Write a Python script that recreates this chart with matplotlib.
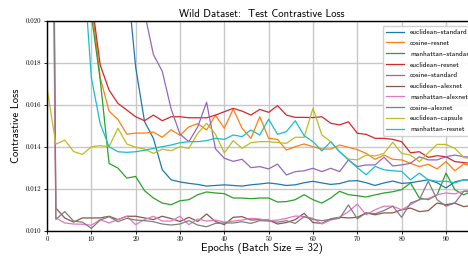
import matplotlib
matplotlib.use('Agg')
import matplotlib.pyplot as plt
from matplotlib.ticker import FormatStrFormatter

# epochs (every 2nd epoch)
epochs = list(range(0, 98, 2))

euclidean_standard = [0.12, 0.08, 0.06, 0.05, 0.042, 0.036, 0.031, 0.027, 0.0245, 0.0222,
                      0.0178, 0.0152, 0.0144, 0.0129, 0.01242, 0.01232, 0.01225, 0.0122, 0.01212, 0.01215,
                      0.01218, 0.01215, 0.01212, 0.01218, 0.01222, 0.01227, 0.01222, 0.01215, 0.01218, 0.01228,
                      0.01235, 0.01227, 0.0122, 0.01224, 0.01236, 0.01238, 0.01228, 0.01215, 0.01227, 0.01236,
                      0.01225, 0.01228, 0.01235, 0.01242, 0.01228, 0.01203, 0.01232, 0.01242, 0.0124]
cosine_resnet = [0.11, 0.075, 0.055, 0.042, 0.030, 0.0209, 0.0173, 0.0157, 0.0153, 0.0146,
                 0.01465, 0.01465, 0.0147, 0.01445, 0.01481, 0.01454, 0.01495, 0.0151, 0.0148, 0.0155,
                 0.01488, 0.0158, 0.01488, 0.0144, 0.01543, 0.0144, 0.01435, 0.01384, 0.014, 0.01413,
                 0.014, 0.01389, 0.01389, 0.01408, 0.01397, 0.01386, 0.01368, 0.0134, 0.0136, 0.0134,
                 0.01337, 0.01321, 0.01305, 0.01316, 0.01294, 0.01329, 0.01285, 0.01317, 0.0131]
manhattan_standard = [0.10, 0.07, 0.05, 0.038, 0.029, 0.0203, 0.0172, 0.0132, 0.01298, 0.0125,
                      0.01258, 0.0119, 0.01155, 0.01131, 0.01123, 0.01142, 0.01147, 0.01171, 0.01184, 0.01179,
                      0.01176, 0.01155, 0.01155, 0.01152, 0.01155, 0.01155, 0.01136, 0.01138, 0.01147, 0.01171,
                      0.01147, 0.01131, 0.01155, 0.01187, 0.01171, 0.01166, 0.0116, 0.0117, 0.01179, 0.01185,
                      0.01195, 0.01227, 0.01155, 0.01147, 0.0117, 0.01274, 0.01195, 0.0117, 0.0119]
euclidean_resnet = [0.13, 0.09, 0.065, 0.048, 0.033, 0.0211, 0.0179, 0.0167, 0.01607, 0.01575,
                    0.01543, 0.01524, 0.01551, 0.01524, 0.01543, 0.01543, 0.01538, 0.01538, 0.01538, 0.01551,
                    0.01567, 0.01583, 0.0157, 0.01551, 0.01578, 0.01564, 0.01596, 0.01551, 0.0154, 0.0154,
                    0.01539, 0.01543, 0.01512, 0.01504, 0.01519, 0.01464, 0.01459, 0.0144, 0.0144, 0.01435,
                    0.01424, 0.01371, 0.01376, 0.01349, 0.01357, 0.01352, 0.01329, 0.01324, 0.0132]
cosine_standard = [0.14, 0.10, 0.08, 0.065, 0.055, 0.047, 0.041, 0.036, 0.032, 0.029,
                   0.026, 0.0204, 0.0184, 0.0176, 0.0158, 0.0146, 0.01424, 0.01495, 0.01612, 0.0139,
                   0.01345, 0.0133, 0.0134, 0.0130, 0.01305, 0.01294, 0.01317, 0.01265, 0.01281, 0.01285,
                   0.01297, 0.01281, 0.01297, 0.01281, 0.01337, 0.01305, 0.01313, 0.01313, 0.0135, 0.01308,
                   0.01313, 0.01321, 0.01352, 0.01337, 0.01337, 0.01352, 0.0136, 0.01352, 0.0135]
euclidean_alexnet = [0.06, 0.01107, 0.0106, 0.0104, 0.0106, 0.0106, 0.0106, 0.01068, 0.01052, 0.01068,
                     0.01068, 0.0106, 0.01052, 0.01068, 0.01057, 0.01043, 0.01063, 0.01043, 0.01079, 0.01043,
                     0.01028, 0.01063, 0.01066, 0.0105, 0.01052, 0.0105, 0.01031, 0.01038, 0.01052, 0.01082,
                     0.01038, 0.01034, 0.01056, 0.01063, 0.0106, 0.01063, 0.01084, 0.01075, 0.01084, 0.01084,
                     0.01099, 0.01107, 0.0109, 0.01095, 0.01131, 0.01123, 0.01131, 0.01114, 0.0112]
manhattan_alexnet = [0.05, 0.0106, 0.01036, 0.01031, 0.0103, 0.01025, 0.01052, 0.01036, 0.01052, 0.01068,
                     0.01028, 0.01052, 0.01068, 0.01045, 0.01045, 0.01068, 0.01028, 0.01055, 0.01045, 0.0105,
                     0.0104, 0.01045, 0.0105, 0.01058, 0.01055, 0.01047, 0.0105, 0.01058, 0.01069, 0.01066,
                     0.01058, 0.01031, 0.0105, 0.01063, 0.0109, 0.01126, 0.01075, 0.01099, 0.01116, 0.01116,
                     0.01099, 0.01123, 0.01147, 0.01152, 0.01171, 0.01179, 0.01175, 0.01187, 0.0119]
cosine_alexnet = [0.07, 0.01053, 0.0109, 0.01045, 0.0104, 0.0101, 0.0105, 0.01066, 0.01042, 0.01058,
                  0.0105, 0.01047, 0.01042, 0.01031, 0.01026, 0.01031, 0.01047, 0.01026, 0.01018, 0.01034,
                  0.01036, 0.01036, 0.01042, 0.01034, 0.01047, 0.01045, 0.0104, 0.01047, 0.01034, 0.01066,
                  0.01053, 0.01047, 0.01053, 0.01058, 0.01122, 0.01056, 0.01084, 0.0108, 0.01095, 0.01116,
                  0.01063, 0.01131, 0.01147, 0.01235, 0.01147, 0.01116, 0.01131, 0.01187, 0.0119]
euclidean_capsule = [0.0168, 0.01412, 0.01432, 0.01377, 0.01363, 0.014, 0.01405, 0.014, 0.01488, 0.01413,
                     0.01397, 0.01389, 0.01368, 0.01388, 0.01381, 0.014, 0.01392, 0.01464, 0.01512, 0.0146,
                     0.0137, 0.01429, 0.01392, 0.01419, 0.01424, 0.01424, 0.0142, 0.01416, 0.01445, 0.01445,
                     0.01583, 0.01456, 0.01424, 0.01376, 0.01341, 0.01337, 0.0136, 0.01356, 0.01368, 0.01421,
                     0.01368, 0.0136, 0.01329, 0.01371, 0.01411, 0.01411, 0.01392, 0.01349, 0.0134]
manhattan_resnet = [0.12, 0.085, 0.06, 0.04, 0.0233, 0.0173, 0.0151, 0.0140, 0.01376, 0.01373,
                    0.01376, 0.01383, 0.01392, 0.014, 0.01408, 0.01419, 0.01424, 0.01424, 0.01429, 0.0144,
                    0.01435, 0.01456, 0.01448, 0.0148, 0.01456, 0.01531, 0.01459, 0.01472, 0.01524, 0.01453,
                    0.01424, 0.0138, 0.01424, 0.01376, 0.01337, 0.013, 0.01266, 0.01306, 0.0129, 0.01285,
                    0.01282, 0.01242, 0.01274, 0.01242, 0.01235, 0.01235, 0.01227, 0.01242, 0.0124]

series = [
    ('euclidean\u2013standard', euclidean_standard),
    ('cosine\u2013resnet', cosine_resnet),
    ('manhattan\u2013standard', manhattan_standard),
    ('euclidean\u2013resnet', euclidean_resnet),
    ('cosine\u2013standard', cosine_standard),
    ('euclidean\u2013alexnet', euclidean_alexnet),
    ('manhattan\u2013alexnet', manhattan_alexnet),
    ('cosine\u2013alexnet', cosine_alexnet),
    ('euclidean\u2013capsule', euclidean_capsule),
    ('manhattan\u2013resnet', manhattan_resnet),
]

sans = ['cmss10', 'DejaVu Sans']
serif = ['cmr10', 'DejaVu Serif']

fig = plt.figure(figsize=(4.68, 2.56), dpi=100)
# axes runs past the right edge of the figure, like the cropped original
ax = fig.add_axes([47 / 468, 25.5 / 256, 430 / 468, 209.5 / 256])

for name, vals in series:
    ax.plot(epochs, vals, label=name, linewidth=0.9)

ax.set_xlim(0, 97)
ax.set_ylim(0.010, 0.020)
ax.set_xticks(range(0, 100, 10))
ax.set_yticks([0.010, 0.012, 0.014, 0.016, 0.018, 0.020])
ax.yaxis.set_major_formatter(FormatStrFormatter('%.3f'))
ax.grid(True, color='#c8c8c8', linewidth=1.0)
ax.set_axisbelow(True)
ax.tick_params(labelsize=5, length=2, width=0.6, pad=2)
for lbl in ax.get_xticklabels() + ax.get_yticklabels():
    lbl.set_family(serif)
for s in ax.spines.values():
    s.set_linewidth(1.0)

ax.set_title('Wild Dataset:  Test Contrastive Loss', fontsize=7.7, family=sans, pad=3)
ax.set_xlabel('Epochs (Batch Size = 32)', fontsize=8, family=sans, labelpad=0.5)
ax.set_ylabel('Contrastive Loss', fontsize=7.8, family=sans, labelpad=3.5)

# legend is cropped at the right edge in the original too
ax.legend(loc='upper left', bbox_to_anchor=(379 / 468, 1 - 22 / 256),
          bbox_transform=fig.transFigure, prop={'family': sans, 'size': 5.2},
          handlelength=2.5, labelspacing=0.65, borderpad=0.5, framealpha=0.9)

fig.savefig('out.png', dpi=100)
